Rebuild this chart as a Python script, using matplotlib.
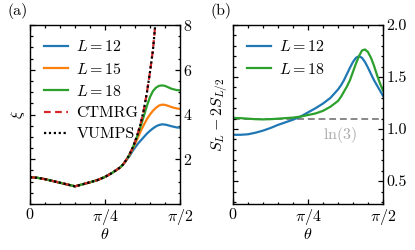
import matplotlib
matplotlib.use("Agg")
import matplotlib.pyplot as plt
from matplotlib.ticker import MultipleLocator, FixedLocator, FormatStrFormatter
import numpy as np

plt.rcParams['font.family'] = 'serif'
plt.rcParams['font.serif'] = ['cmr10']
plt.rcParams['mathtext.fontset'] = 'cm'
plt.rcParams['axes.unicode_minus'] = False
plt.rcParams['axes.formatter.use_mathtext'] = True
plt.rcParams['font.size'] = 11.5

# theta given as a fraction of pi/2
# (a) correlation length xi, part shared by all curves
f_common = [0.0, 0.05, 0.10, 0.15, 0.20, 0.25, 0.30, 0.35, 0.40, 0.45, 0.50,
            0.55, 0.60, 0.62, 0.64]
xi_common = [1.20, 1.17, 1.11, 1.03, 0.95, 0.87, 0.79, 0.88, 0.97, 1.07, 1.21,
             1.40, 1.63, 1.76, 1.95]

f_tail = [0.66, 0.68, 0.70, 0.72, 0.74, 0.76, 0.78, 0.80, 0.82, 0.84, 0.86,
          0.88, 0.90, 0.92, 0.94, 0.96, 0.98, 1.00]
xi_L12 = [2.10, 2.32, 2.52, 2.70, 2.85, 3.00, 3.15, 3.27, 3.38, 3.47, 3.53,
          3.56, 3.55, 3.52, 3.48, 3.45, 3.42, 3.41]
xi_L15 = [2.15, 2.40, 2.68, 2.98, 3.28, 3.55, 3.80, 4.00, 4.17, 4.30, 4.40,
          4.44, 4.43, 4.39, 4.34, 4.30, 4.27, 4.25]
xi_L18 = [2.17, 2.44, 2.76, 3.12, 3.52, 3.95, 4.40, 4.78, 5.05, 5.20, 5.28,
          5.30, 5.28, 5.22, 5.16, 5.12, 5.09, 5.08]

f_ctm = [0.66, 0.68, 0.70, 0.72, 0.74, 0.76, 0.78, 0.80, 0.82, 0.835, 0.845]
xi_ctm = [2.17, 2.45, 2.78, 3.18, 3.65, 4.25, 5.00, 5.90, 6.90, 8.00, 8.60]

# (b) S_L - 2 S_{L/2}
f_b = [0.0, 0.05, 0.10, 0.15, 0.20, 0.25, 0.30, 0.35, 0.40, 0.45, 0.50, 0.55,
       0.60, 0.65, 0.70, 0.72, 0.74, 0.76, 0.78, 0.80, 0.82, 0.84, 0.86, 0.88,
       0.90, 0.92, 0.94, 0.96, 0.98, 1.00]
S_L12 = [0.945, 0.945, 0.95, 0.965, 0.985, 1.01, 1.04, 1.065, 1.09, 1.12, 1.16, 1.20,
         1.245, 1.30, 1.38, 1.42, 1.47, 1.53, 1.59, 1.645, 1.685, 1.70, 1.685, 1.645,
         1.59, 1.53, 1.47, 1.42, 1.37, 1.32]
S_L18 = [1.107, 1.105, 1.10, 1.095, 1.093, 1.095, 1.10, 1.105, 1.11, 1.12, 1.135, 1.15,
         1.175, 1.215, 1.27, 1.31, 1.36, 1.41, 1.47, 1.55, 1.63, 1.70, 1.755, 1.765,
         1.74, 1.685, 1.61, 1.52, 1.44, 1.37]

blue, orange, green, red = '#1f77b4', '#ff7f0e', '#2ca02c', '#d62728'
half = np.pi / 2


def th(fr):
    return np.array(fr) * half


def style(ax):
    ax.set_xlim(0, half)
    ax.xaxis.set_major_locator(FixedLocator([0, np.pi / 4, np.pi / 2]))
    ax.set_xticklabels(['$0$', r'$\pi/4$', r'$\pi/2$'])
    ax.xaxis.set_minor_locator(MultipleLocator(np.pi / 20))
    ax.tick_params(which='both', direction='in', top=True, bottom=True,
                   left=True, right=True, labelleft=False, labelright=True,
                   width=0.9, pad=2.5)
    ax.tick_params(which='major', length=3.5)
    ax.tick_params(which='minor', length=1.8)
    for s in ax.spines.values():
        s.set_linewidth(1.0)
    ax.set_xlabel(r'$\theta$', labelpad=0)


fig = plt.figure(figsize=(4.15, 2.5), dpi=100)
ax1 = fig.add_axes([0.0723, 0.184, 0.3614, 0.716])
ax2 = fig.add_axes([0.5614, 0.184, 0.3614, 0.716])

lw = 1.6
for fr, vals, c, lab in [(f_tail, xi_L12, blue, '$L=12$'),
                         (f_tail, xi_L15, orange, '$L=15$'),
                         (f_tail, xi_L18, green, '$L=18$')]:
    ax1.plot(th(f_common + fr), xi_common + vals, color=c, lw=lw, label=lab)
ax1.plot(th(f_common + f_ctm), xi_common + xi_ctm, color=red, lw=lw, ls=(0, (3, 2)), label='CTMRG')
ax1.plot(th(f_common + f_ctm), xi_common + xi_ctm, color='black', lw=lw, ls=(0, (1, 1.2)), label='VUMPS')
ax1.set_ylim(0, 8)
ax1.yaxis.set_major_locator(FixedLocator([2, 4, 6, 8]))
ax1.yaxis.set_minor_locator(MultipleLocator(0.5))
ax1.set_ylabel(r'$\xi$', labelpad=2)
style(ax1)
ax1.legend(loc='upper left', frameon=False, handlelength=1.5, handletextpad=0.5,
           labelspacing=0.45, borderaxespad=0.5, fontsize=11.5)
fig.text(0.018, 0.94, '(a)', fontsize=11.5)

ax2.plot(th(f_b), S_L12, color=blue, lw=lw, label='$L=12$')
ax2.plot(th(f_b), S_L18, color=green, lw=lw, label='$L=18$')
ax2.axhline(np.log(3), color='#888888', lw=1.4, ls=(0, (3.5, 2)), zorder=0)
ax2.text(0.713, 0.385, r'$\ln(3)$', color='#aaaaaa', ha='center', va='center',
         fontsize=11.5, transform=ax2.transAxes)
ax2.set_ylim(0.28, 2.0)
ax2.yaxis.set_major_locator(MultipleLocator(0.5))
ax2.yaxis.set_minor_locator(MultipleLocator(0.1))
ax2.yaxis.set_major_formatter(FormatStrFormatter('%.1f'))
ax2.set_ylabel(r'$S_L-2S_{L/2}$', labelpad=2)
style(ax2)
ax2.legend(loc='upper left', frameon=False, handlelength=1.5, handletextpad=0.5,
           labelspacing=0.45, borderaxespad=0.5, fontsize=11.5)
fig.text(0.508, 0.94, '(b)', fontsize=11.5)

fig.savefig('out.png', dpi=100)
